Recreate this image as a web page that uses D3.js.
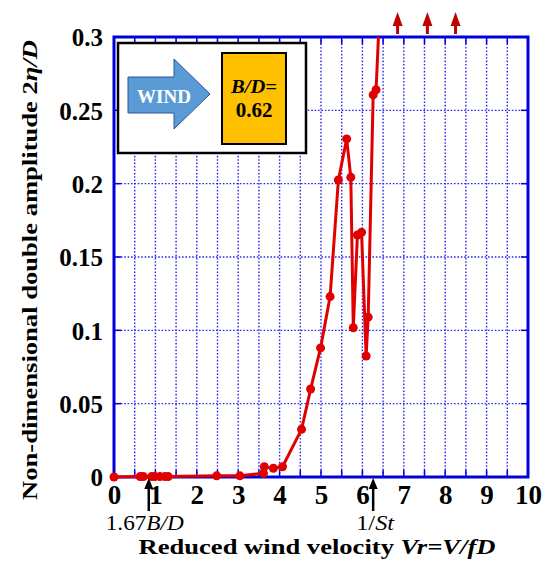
<!DOCTYPE html>
<html><head><meta charset="utf-8">
<script src="https://cdn.jsdelivr.net/npm/d3@7"></script>
<style>body{margin:0;background:#fff}svg{display:block}</style>
</head><body>
<svg id="c" width="551" height="561"></svg>
<script>
// ---- data ----
const vr = [0, 0.63, 0.71, 0.91, 0.99, 1.11, 1.23, 1.31, 2.48, 3.04, 3.61, 3.63, 3.85, 4.07, 4.53, 4.75, 4.99, 5.22, 5.42, 5.62, 5.72, 5.78, 5.88, 5.98, 6.09, 6.14, 6.26, 6.33];
const amp = [0, 0.0003, 0.0003, 0.0003, 0.0003, 0.0003, 0.0003, 0.0003, 0.0008, 0.0008, 0.0025, 0.007, 0.006, 0.007, 0.0325, 0.06, 0.088, 0.123, 0.2025, 0.2305, 0.2043, 0.1018, 0.165, 0.1668, 0.0825, 0.109, 0.2605, 0.264];
const offScaleNext = [6.42, 0.32];          // next point lies above the plotted range
const offScaleArrows = [6.85, 7.57, 8.25];  // red arrows: amplitude beyond scale
const xTicks = [0,1,2,3,4,5,6,7,8,9,10];
const yTicks = [0,0.05,0.1,0.15,0.2,0.25,0.3];
const markerX = [0.84, 6.26];
const markerLabels = [["1.67","B/D"],["1/","St"]];

const svg = d3.select("#c");
const serif = "'Liberation Serif','Times New Roman',serif";
const x = d3.scaleLinear().domain([0,10]).range([114,528]);
const y = d3.scaleLinear().domain([0,0.3]).range([477,37]);

// grid
const gx = d3.range(1,20).map(i=>i*0.5);
const gy = d3.range(1,6).map(i=>i*0.05);
svg.append("g").selectAll("line").data(gx).join("line")
  .attr("x1",d=>x(d)).attr("x2",d=>x(d)).attr("y1",y(0)).attr("y2",y(0.3))
  .attr("stroke","#2a2aee").attr("stroke-width",1.4).attr("stroke-dasharray","1.6,1.8");
svg.append("g").selectAll("line").data(gy).join("line")
  .attr("y1",d=>y(d)).attr("y2",d=>y(d)).attr("x1",x(0)).attr("x2",x(10))
  .attr("stroke","#2a2aee").attr("stroke-width",1.4).attr("stroke-dasharray","1.6,1.8");

// inward ticks
const tk = svg.append("g").attr("stroke","#0000dd").attr("stroke-width",1.5);
gx.forEach(d=>{
  tk.append("line").attr("x1",x(d)).attr("x2",x(d)).attr("y1",y(0.3)).attr("y2",y(0.3)+7);
  tk.append("line").attr("x1",x(d)).attr("x2",x(d)).attr("y1",y(0)).attr("y2",y(0)-7);
});
gy.forEach(d=>{
  tk.append("line").attr("y1",y(d)).attr("y2",y(d)).attr("x1",x(0)).attr("x2",x(0)+7);
  tk.append("line").attr("y1",y(d)).attr("y2",y(d)).attr("x1",x(10)).attr("x2",x(10)-7);
});

// legend box
const lg = svg.append("g");
lg.append("rect").attr("x",118).attr("y",43).attr("width",188).attr("height",110)
  .attr("fill","#fff").attr("stroke","#000").attr("stroke-width",2.5);
lg.append("polygon").attr("points","128,77 174,77 174,59 210,94 174,129 174,113 128,113")
  .attr("fill","#5b9bd5").attr("stroke","#2f5597").attr("stroke-width",1);
lg.append("text").attr("x",164).attr("y",103).attr("text-anchor","middle")
  .attr("font-family",serif).attr("font-weight","bold").attr("font-size",19)
  .attr("fill","#fff").text("WIND");
lg.append("rect").attr("x",222).attr("y",53).attr("width",64).attr("height",91)
  .attr("fill","#ffc000").attr("stroke","#000").attr("stroke-width",2);
lg.append("text").attr("x",254).attr("y",93).attr("text-anchor","middle")
  .attr("font-family",serif).attr("font-weight","bold").attr("font-style","italic")
  .attr("font-size",19).attr("textLength",46).attr("lengthAdjust","spacingAndGlyphs").text("B/D=");
lg.append("text").attr("x",254).attr("y",117).attr("text-anchor","middle")
  .attr("font-family",serif).attr("font-weight","bold").attr("font-size",21).text("0.62");

// frame
svg.append("rect").attr("x",x(0)).attr("y",y(0.3)).attr("width",x(10)-x(0)).attr("height",y(0)-y(0.3))
  .attr("fill","none").attr("stroke","#0000dd").attr("stroke-width",3);

// data line
svg.append("clipPath").attr("id","clip").append("rect")
  .attr("x",x(0)-6).attr("y",y(0.3)).attr("width",x(10)-x(0)+12).attr("height",y(0)-y(0.3)+6);
const pts = vr.map((v,i)=>[v,amp[i]]);
const line = d3.line().x(d=>x(d[0])).y(d=>y(d[1]));
const dg = svg.append("g").attr("clip-path","url(#clip)");
dg.append("path").attr("d",line(pts.concat([offScaleNext]))).attr("fill","none")
  .attr("stroke","#e00000").attr("stroke-width",3).attr("stroke-linejoin","round");
dg.selectAll("circle").data(pts).join("circle")
  .attr("cx",d=>x(d[0])).attr("cy",d=>y(d[1])).attr("r",4.5).attr("fill","#e00000");

// red off-scale arrows
offScaleArrows.forEach(v=>{
  const cx = x(v);
  svg.append("rect").attr("x",cx-1.5).attr("y",25).attr("width",3).attr("height",9).attr("fill","#c00000");
  svg.append("polygon").attr("points",`${cx-5},26 ${cx},12 ${cx+5},26`).attr("fill","#c00000");
});

// axis tick labels
const xa = svg.append("g").attr("transform",`translate(0,${y(0)})`)
  .call(d3.axisBottom(x).tickValues(xTicks).tickSize(0).tickFormat(d3.format("d")));
xa.select(".domain").remove();
xa.selectAll("text").attr("y",27).attr("dy",0).attr("font-family",serif).attr("font-weight","bold")
  .attr("font-size",27).attr("fill","#000");
const ya = svg.append("g").attr("transform",`translate(${x(0)},0)`)
  .call(d3.axisLeft(y).tickValues(yTicks).tickSize(0).tickFormat(d=>d===0?"0":String(+d.toFixed(2))));
ya.select(".domain").remove();
ya.selectAll("text").attr("x",-11).attr("dy","0.35em").attr("font-family",serif).attr("font-weight","bold")
  .attr("font-size",25).attr("fill","#000");

// black arrows and labels
const labelShift = [-4, 2];
markerX.forEach((m,i)=>{
  const cx = x(m);
  svg.append("line").attr("x1",cx).attr("x2",cx).attr("y1",486).attr("y2",511).attr("stroke","#000").attr("stroke-width",2.5);
  svg.append("polygon").attr("points",`${cx-4.5},489 ${cx},478 ${cx+4.5},489`).attr("fill","#000");
  const t = svg.append("text").attr("x",cx+labelShift[i]).attr("y",529.5).attr("text-anchor","middle")
    .attr("font-family",serif).attr("font-size",21).attr("textLength",i===0?78:38)
    .attr("lengthAdjust","spacingAndGlyphs").attr("fill","#000");
  t.append("tspan").text(markerLabels[i][0]);
  t.append("tspan").attr("font-style","italic").text(markerLabels[i][1]);
});

// axis titles
const xt = svg.append("text").attr("x",317).attr("y",554).attr("text-anchor","middle")
  .attr("font-family",serif).attr("font-weight","bold").attr("font-size",22)
  .attr("textLength",357).attr("lengthAdjust","spacingAndGlyphs");
xt.append("tspan").text("Reduced wind velocity ");
xt.append("tspan").attr("font-style","italic").text("Vr=V/fD");
const yt = svg.append("text").attr("transform","translate(37,270) rotate(-90)").attr("text-anchor","middle")
  .attr("font-family",serif).attr("font-weight","bold").attr("font-size",22)
  .attr("textLength",460).attr("lengthAdjust","spacingAndGlyphs");
yt.append("tspan").text("Non-dimensional double amplitude 2");
yt.append("tspan").attr("font-style","italic").text("η/D");
</script>
</body></html>
